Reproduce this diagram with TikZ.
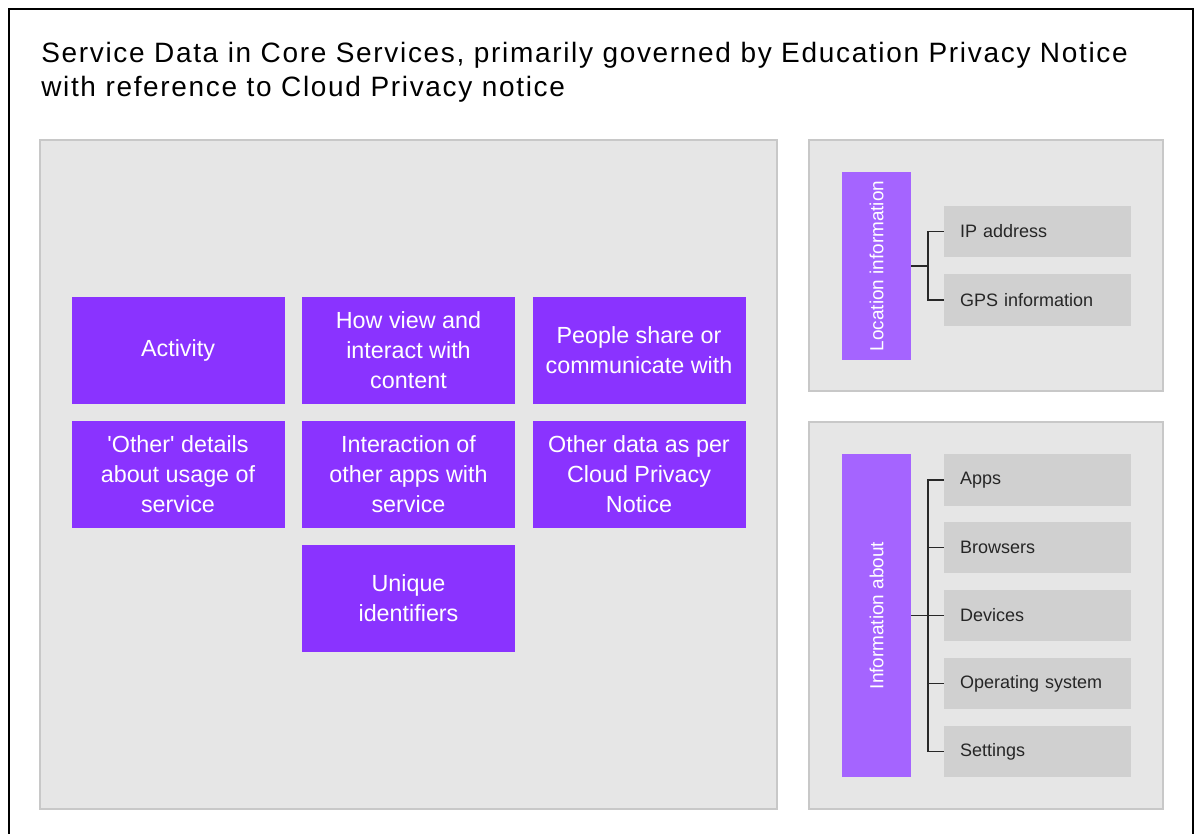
\documentclass[tikz,border=0pt]{standalone}
\usepackage{fontspec}
\setmainfont{Liberation Sans}
\newfontfamily\titlefont[LetterSpace=6]{Liberation Sans}
\newfontfamily\boxfont{Liberation Sans}
\definecolor{purp}{RGB}{138,51,255}
\definecolor{lpurp}{RGB}{165,100,255}
\definecolor{panelgray}{RGB}{230,230,230}
\definecolor{panelborder}{RGB}{200,200,200}
\definecolor{lblgray}{RGB}{208,208,208}
\definecolor{txt}{RGB}{38,38,38}
\definecolor{linec}{RGB}{40,40,40}
\begin{document}
\begin{tikzpicture}[x=0.75pt,y=-0.75pt,
  panel/.style={rectangle, fill=panelgray, draw=panelborder, line width=0.8pt, inner sep=0pt},
  pbox/.style={rectangle, fill=purp, text=white, minimum width=159.75pt, minimum height=80.25pt, inner sep=0pt, align=center, font=\boxfont\fontsize{17.5}{22.5}\selectfont},
  lbl/.style={rectangle, fill=lblgray, text=txt, minimum height=38.5pt, text width=116.25pt, inner xsep=12pt, inner ysep=0pt, align=left, font=\fontsize{13.5}{16}\selectfont},
  vbox/.style={rectangle, fill=lpurp, text=white, rotate=90, inner sep=0pt, minimum height=51.75pt, font=\fontsize{14.2}{16}\selectfont},
  conn/.style={draw=linec, line width=1.1pt}
]
\useasboundingbox (0,0) rectangle (1200,833);
\draw[line width=1.3pt] (9,845) -- (9,9) -- (1193,9) -- (1193,845);

\node[anchor=base west, align=left, text=black, inner sep=0pt, font=\titlefont\fontsize{21}{25.5}\selectfont] (title) at (41,96.7)
  {Service Data in Core Services, primarily governed by Education Privacy Notice\\with reference to Cloud Privacy notice};

% panels
\node[panel, minimum width=552.75pt, minimum height=501.75pt] (left) at (408.5,474.5) {};
\node[panel, minimum width=265.5pt, minimum height=188.25pt] (tr) at (986,265.5) {};
\node[panel, minimum width=265.5pt, minimum height=290.25pt] (br) at (986,615.5) {};

% purple boxes
\node[pbox] (activity) at (178,350.5) {Activity};
\node[pbox] (view) at (408.5,350.5) {How view and\\interact with\\content};
\node[pbox] (people) at (639,350.5) {People share or\\communicate with};
\node[pbox] (other) at (178,474.5) {'Other' details\\about usage of\\service};
\node[pbox] (interaction) at (408.5,474.5) {Interaction of\\other apps with\\service};
\node[pbox] (otherdata) at (639,474.5) {Other data as per\\Cloud Privacy\\Notice};
\node[pbox] (unique) at (408.5,598.5) {Unique\\identifiers};

% location
\node[vbox, minimum width=141pt] (loc) at (876.5,266) {Location information};
\node[lbl] (ip) at (1037.5,231.5) {IP address};
\node[lbl] (gps) at (1037.5,300) {GPS information};
\coordinate (sp1) at (928,266);
\draw[conn] (loc.south) -- (sp1);
\draw[conn] (ip.west) -| (sp1);
\draw[conn] (gps.west) -| (sp1);

% information about
\node[vbox, minimum width=242.25pt] (info) at (876.5,615.5) {Information about};
\node[lbl] (apps) at (1037.5,480) {Apps};
\node[lbl] (browsers) at (1037.5,547.5) {Browsers};
\node[lbl] (devices) at (1037.5,615.5) {Devices};
\node[lbl] (os) at (1037.5,683.5) {Operating system};
\node[lbl] (settings) at (1037.5,751.5) {Settings};
\coordinate (sp2) at (928,615.5);
\draw[conn] (info.south) -- (devices.west);
\draw[conn] (apps.west) -| (sp2);
\draw[conn] (browsers.west) -| (sp2);
\draw[conn] (os.west) -| (sp2);
\draw[conn] (settings.west) -| (sp2);
\end{tikzpicture}
\end{document}
